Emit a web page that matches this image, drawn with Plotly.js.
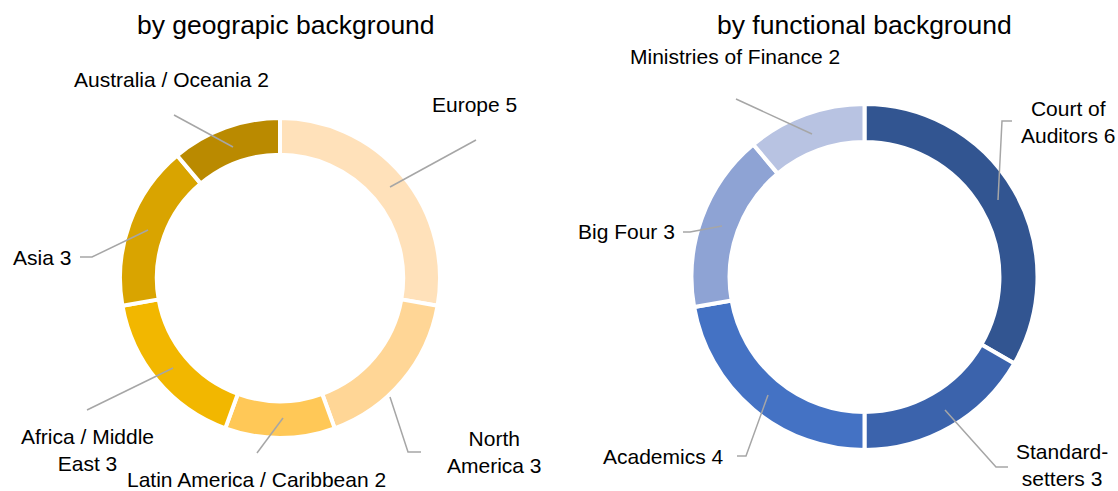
<!DOCTYPE html>
<html>
<head>
<meta charset="utf-8">
<script src="https://cdn.plot.ly/plotly-3.0.1.min.js"></script>
<style>html,body{margin:0;padding:0;background:#fff;}#chart{width:1118px;height:491px;}</style>
</head>
<body>
<div id="chart"></div>
<script>
// ---- data ----
const geoCategories = ['Europe', 'North<br>America', 'Latin America / Caribbean', 'Africa / Middle<br>East', 'Asia', 'Australia / Oceania'];
const geoValues = [5, 3, 2, 3, 3, 2];
const funcCategories = ['Court of<br>Auditors', 'Standard-<br>setters', 'Academics', 'Big Four', 'Ministries of Finance'];
const funcValues = [6, 3, 4, 3, 2];
const titles = ['by geograpic background', 'by functional background'];

// ---- styles ----
const geoColors = ['#FFE1BA', '#FFD696', '#FFC857', '#F2B700', '#D9A400', '#BA8A00'];
const funcColors = ['#325591', '#3B63AC', '#4472C4', '#8EA3D4', '#B8C3E2'];
const W = 1118, H = 491;
const FONT = 'Liberation Sans, Arial, sans-serif';
const px = (x, y) => [x / W, 1 - y / H];

// label anchor positions (pixels) and leader line paths (pixels)
const geoLabelPos = [[474, 105], [494, 452], [256, 479], [87, 450], [42, 257], [171, 79]];
const geoLeaders = [
  [[476, 140], [390, 187]],
  [[390, 397], [408, 452], [421, 452]],
  [[257, 453], [283, 418]],
  [[87, 410], [173, 368]],
  [[80, 257], [92, 257], [148, 230]],
  [[174, 115], [233, 147]]
];
const funcLabelPos = [[1068, 122], [1062, 465], [663, 456], [626, 232], [735, 57]];
const funcLeaders = [
  [[1012, 121], [1002, 121], [998, 200]],
  [[945, 410], [996, 467], [1008, 467]],
  [[737, 456], [746, 456], [768, 395]],
  [[683, 232], [690, 232], [722, 226]],
  [[736, 99], [812, 134]]
];

function pathOf(pts) {
  return pts.map((p, i) => {
    const q = px(p[0], p[1]);
    return (i ? 'L' : 'M') + q[0].toFixed(5) + ',' + q[1].toFixed(5);
  }).join(' ');
}

const traces = [
  {
    type: 'pie', labels: geoCategories, values: geoValues, sort: false,
    direction: 'clockwise', rotation: 0, hole: 0.77, textinfo: 'none',
    marker: {colors: geoColors, line: {color: '#ffffff', width: 4}},
    domain: {x: [120 / W, 440 / W], y: [1 - 438 / H, 1 - 118 / H]},
    showlegend: false, hoverinfo: 'label+value'
  },
  {
    type: 'pie', labels: funcCategories, values: funcValues, sort: false,
    direction: 'clockwise', rotation: 0, hole: 0.78, textinfo: 'none',
    marker: {colors: funcColors, line: {color: '#ffffff', width: 4}},
    domain: {x: [691 / W, 1038 / W], y: [1 - 450 / H, 1 - 104 / H]},
    showlegend: false, hoverinfo: 'label+value'
  }
];

const annotations = [];
const shapes = [];
function addLabels(cats, vals, pos, leaders) {
  cats.forEach((c, i) => {
    const p = px(pos[i][0], pos[i][1]);
    annotations.push({
      xref: 'paper', yref: 'paper', x: p[0], y: p[1],
      xanchor: 'center', yanchor: 'middle', showarrow: false,
      text: c + ' ' + vals[i], align: 'center',
      font: {family: FONT, size: 21, color: '#000000'}
    });
    shapes.push({
      type: 'path', xref: 'paper', yref: 'paper', path: pathOf(leaders[i]),
      line: {color: '#A6A6A6', width: 1.5}
    });
  });
}
addLabels(geoCategories, geoValues, geoLabelPos, geoLeaders);
addLabels(funcCategories, funcValues, funcLabelPos, funcLeaders);

[[286, 25], [864, 25]].forEach((t, i) => {
  const p = px(t[0], t[1]);
  annotations.push({
    xref: 'paper', yref: 'paper', x: p[0], y: p[1], xanchor: 'center', yanchor: 'middle',
    showarrow: false, text: titles[i], font: {family: FONT, size: 26.5, color: '#000000'}
  });
});

const layout = {
  width: W, height: H, margin: {l: 0, r: 0, t: 0, b: 0},
  paper_bgcolor: '#ffffff', plot_bgcolor: '#ffffff',
  showlegend: false, annotations: annotations, shapes: shapes,
  font: {family: FONT}
};
Plotly.newPlot('chart', traces, layout, {staticPlot: true, displayModeBar: false});
</script>
</body>
</html>
